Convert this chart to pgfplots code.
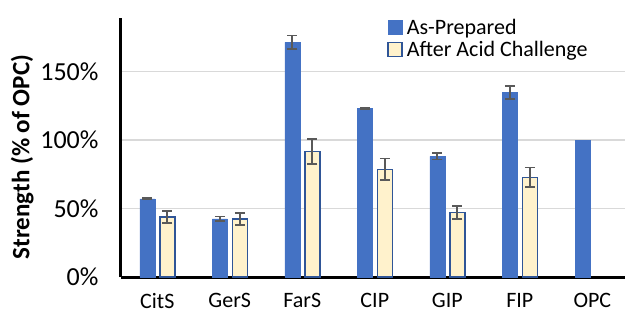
\documentclass[border=0pt]{standalone}
\usepackage{pgfplots}
\pgfplotsset{compat=1.18}
\usepackage{fontspec}
\setmainfont{Carlito}
\definecolor{barblue}{HTML}{4472C4}
\definecolor{baryel}{HTML}{FFF2CC}
\definecolor{edgeblue}{HTML}{2F5597}
\definecolor{errgray}{HTML}{595959}
\definecolor{gridgray}{HTML}{D9D9D9}
\begin{document}
\begin{tikzpicture}
\begin{axis}[
  at={(0,0)}, anchor=south west,
  scale only axis, width=504bp, height=259bp,
  xmin=-0.5, xmax=6.45, ymin=0, ymax=189,
  ybar=5bp, bar width=15bp,
  xtick={0,1,2,3,4,5,6},
  xticklabels={CitS,GerS,FarS,CIP,GIP,FIP,OPC},
  ytick={0,50,100,150},
  yticklabels={0\%,50\%,100\%,150\%},
  ymajorgrids, grid style={gridgray, line width=1.5bp},
  axis x line*=bottom, axis y line*=left,
  axis line style={black, line width=3bp, -},
  major tick length=0pt,
  xticklabel style={font=\fontsize{22bp}{26bp}\selectfont, yshift=-13bp},
  yticklabel style={font=\fontsize{26bp}{30bp}\selectfont, xshift=-19bp},
  ylabel={\textbf{Strength (\% of OPC)}},
  ylabel style={font=\fontsize{25bp}{29bp}\selectfont, at={(axis description cs:-0.196,0.463)}, anchor=center, rotate=0},
  legend style={at={(axis description cs:0.528,1.0)}, anchor=north west, draw=none, fill=none,
     font=\fontsize{22bp}{26bp}\selectfont, row sep=3bp, inner sep=0pt,
     nodes={inner xsep=4bp, inner ysep=1bp}},
  legend cell align=left,
  legend image code/.code={\draw[#1, bar width=0pt, bar shift=0pt] (0bp,-7bp) rectangle (14bp,7bp);},
  clip=false,
]
\addplot[fill=barblue, draw=barblue, line width=0.5bp, bar shift=-10bp,
  error bars/.cd, y dir=both, y explicit,
  error bar style={errgray, line width=1.8bp},
  error mark options={rotate=90, mark size=5bp, line width=1.8bp, errgray}]
  coordinates {
  (0,57) +- (0,0.5)
  (1,42.5) +- (0,1.7)
  (2,171.3) +- (0,4.9)
  (3,123) +- (0,0.5)
  (4,88) +- (0,2.2)
  (5,134.5) +- (0,4.9)
  };
\addplot[fill=baryel, draw=edgeblue, line width=1.5bp, bar shift=10bp,
  error bars/.cd, y dir=both, y explicit,
  error bar style={errgray, line width=1.8bp},
  error mark options={rotate=90, mark size=5bp, line width=1.8bp, errgray}]
  coordinates {
  (0,43.8) +- (0,4.4)
  (1,42.3) +- (0,4.4)
  (2,91.5) +- (0,9.3)
  (3,78.5) +- (0,8)
  (4,47.2) +- (0,4.6)
  (5,72.7) +- (0,7.2)
  };
\addplot[fill=barblue, draw=barblue, line width=0.5bp, bar shift=-10bp, forget plot]
  coordinates {(6,100)};
\legend{As-Prepared, After Acid Challenge}
\end{axis}
\pgfresetboundingbox
\useasboundingbox (-121bp,-38bp) rectangle (504bp,277bp);
\end{tikzpicture}
\end{document}
